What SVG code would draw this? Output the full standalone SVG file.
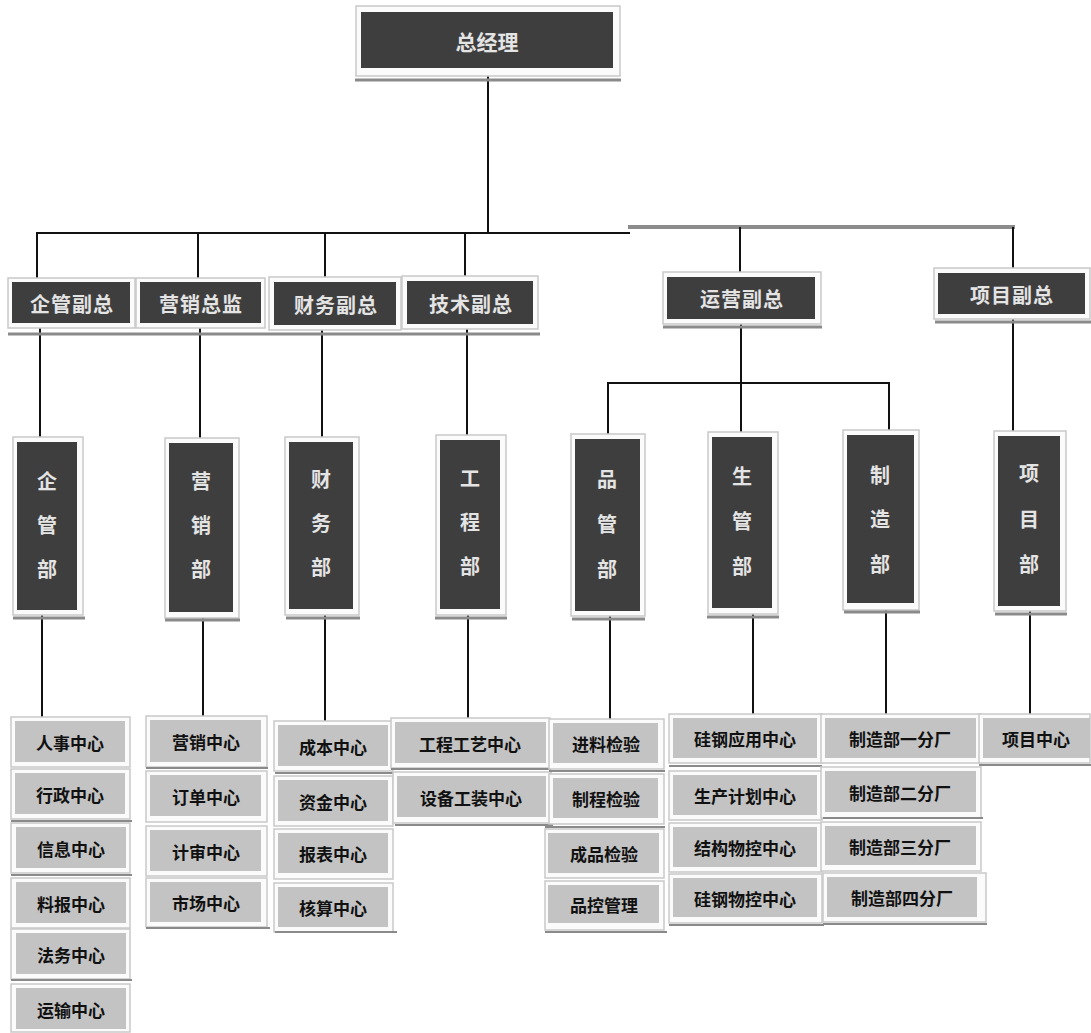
<svg xmlns="http://www.w3.org/2000/svg" width="1091" height="1033" viewBox="0 0 1091 1033">
<style>
.frame{fill:#fbfbfb;stroke:#c9c9c9;stroke-width:1.5}
.dark{fill:#3e3e3e}
.light{fill:#c3c3c3}
.sh{stroke:#8a8a8a;stroke-width:3}
.ln{stroke:#111;stroke-width:2;fill:none}
.wt{fill:#e4e4e4;font-family:"Noto Sans CJK SC","Noto Sans",sans-serif;font-weight:bold;text-anchor:middle;dominant-baseline:central}
.t1{font-size:21px}
.t2{font-size:20px;letter-spacing:1px}
.t3{font-size:20px}
.bt{fill:#111;font-family:"Noto Sans CJK SC","Noto Sans",sans-serif;font-weight:bold;font-size:17px;text-anchor:middle;dominant-baseline:central}
</style>
<rect width="1091" height="1033" fill="#ffffff"/>

<g id="connectors">
  <line class="ln" x1="488" y1="76" x2="488" y2="233"/>
  <line class="ln" x1="36" y1="233" x2="630" y2="233"/>
  <line x1="628" y1="227" x2="1015" y2="227" stroke="#8c8c8c" stroke-width="4"/>
  <line class="ln" x1="37" y1="233" x2="37" y2="282"/>
  <line class="ln" x1="198" y1="233" x2="198" y2="282"/>
  <line class="ln" x1="325" y1="233" x2="325" y2="282"/>
  <line class="ln" x1="465" y1="233" x2="465" y2="281"/>
  <line class="ln" x1="740" y1="227" x2="740" y2="277"/>
  <line class="ln" x1="1013" y1="227" x2="1013" y2="273"/>

  <line class="ln" x1="40" y1="327" x2="40" y2="442"/>
  <line class="ln" x1="200" y1="327" x2="200" y2="443"/>
  <line class="ln" x1="322" y1="329" x2="322" y2="442"/>
  <line class="ln" x1="467" y1="328" x2="467" y2="440"/>
  <line class="ln" x1="741" y1="323" x2="741" y2="437"/>
  <line class="ln" x1="607" y1="383" x2="890" y2="383"/>
  <line class="ln" x1="608" y1="382" x2="608" y2="439"/>
  <line class="ln" x1="889" y1="382" x2="889" y2="435"/>
  <line class="ln" x1="1013" y1="318" x2="1013" y2="436"/>

  <line class="ln" x1="42" y1="614" x2="42" y2="721"/>
  <line class="ln" x1="203" y1="616" x2="203" y2="720"/>
  <line class="ln" x1="325" y1="613" x2="325" y2="725"/>
  <line class="ln" x1="468" y1="613" x2="468" y2="722"/>
  <line class="ln" x1="610" y1="615" x2="610" y2="723"/>
  <line class="ln" x1="753" y1="612" x2="753" y2="718"/>
  <line class="ln" x1="886" y1="609" x2="886" y2="718"/>
  <line class="ln" x1="1030" y1="611" x2="1030" y2="718"/>
</g>

<g id="n-gm">
  <rect class="frame" x="356" y="6" width="264" height="70"/>
  <rect class="dark" x="361" y="12" width="252" height="56"/>
  <line class="sh" x1="355" y1="80" x2="621" y2="80"/>
  <text class="wt t1" x="487" y="41">总经理</text>
</g>

<g id="n-vp-qg">
  <rect class="frame" x="8" y="278" width="127" height="50"/>
  <rect class="dark" x="12" y="282" width="118" height="41"/>
  <text class="wt t2" x="72" y="303">企管副总</text>
</g>
<g id="n-vp-yx">
  <rect class="frame" x="136" y="278" width="129" height="50"/>
  <rect class="dark" x="140" y="282" width="121" height="41"/>
  <text class="wt t2" x="201" y="303">营销总监</text>
</g>
<g id="n-vp-cw">
  <rect class="frame" x="269" y="277" width="132" height="53"/>
  <rect class="dark" x="274" y="282" width="122" height="43"/>
  <text class="wt t2" x="336" y="304">财务副总</text>
</g>
<g id="n-vp-js">
  <rect class="frame" x="402" y="276" width="136" height="53"/>
  <rect class="dark" x="407" y="281" width="126" height="43"/>
  <text class="wt t2" x="471" y="303">技术副总</text>
</g>
<line class="sh" x1="8" y1="334" x2="540" y2="334"/>
<g id="n-vp-yy">
  <rect class="frame" x="663" y="272" width="158" height="52"/>
  <rect class="dark" x="667" y="277" width="148" height="42"/>
  <line class="sh" x1="663" y1="327" x2="822" y2="327"/>
  <text class="wt t2" x="742" y="298">运营副总</text>
</g>
<g id="n-vp-xm">
  <rect class="frame" x="934" y="268" width="156" height="51"/>
  <rect class="dark" x="938" y="273" width="147" height="41"/>
  <line class="sh" x1="935" y1="322" x2="1091" y2="322"/>
  <text class="wt t2" x="1012" y="294">项目副总</text>
</g>

<g id="d-qg">
  <rect class="frame" x="13" y="437" width="70" height="178"/>
  <rect class="dark" x="17" y="442" width="60" height="168"/>
  <line class="sh" x1="13" y1="618" x2="85" y2="618"/>
  <text class="wt t3" x="47" y="480">企</text><text class="wt t3" x="47" y="524">管</text><text class="wt t3" x="47" y="568">部</text>
</g>
<g id="d-yx">
  <rect class="frame" x="165" y="438" width="74" height="180"/>
  <rect class="dark" x="169" y="443" width="64" height="169"/>
  <line class="sh" x1="165" y1="620" x2="240" y2="620"/>
  <text class="wt t3" x="201" y="480">营</text><text class="wt t3" x="201" y="524">销</text><text class="wt t3" x="201" y="568">部</text>
</g>
<g id="d-cw">
  <rect class="frame" x="285" y="437" width="74" height="178"/>
  <rect class="dark" x="289" y="442" width="64" height="167"/>
  <line class="sh" x1="286" y1="618" x2="360" y2="618"/>
  <text class="wt t3" x="321" y="478">财</text><text class="wt t3" x="321" y="522">务</text><text class="wt t3" x="321" y="566">部</text>
</g>
<g id="d-gc">
  <rect class="frame" x="436" y="435" width="70" height="180"/>
  <rect class="dark" x="440" y="440" width="60" height="169"/>
  <line class="sh" x1="435" y1="618" x2="507" y2="618"/>
  <text class="wt t3" x="470" y="477">工</text><text class="wt t3" x="470" y="521">程</text><text class="wt t3" x="470" y="565">部</text>
</g>
<g id="d-pg">
  <rect class="frame" x="571" y="434" width="74" height="182"/>
  <rect class="dark" x="575" y="439" width="65" height="172"/>
  <line class="sh" x1="572" y1="619" x2="645" y2="619"/>
  <text class="wt t3" x="607" y="478">品</text><text class="wt t3" x="607" y="523">管</text><text class="wt t3" x="607" y="568">部</text>
</g>
<g id="d-sg">
  <rect class="frame" x="708" y="432" width="70" height="182"/>
  <rect class="dark" x="712" y="437" width="60" height="171"/>
  <line class="sh" x1="707" y1="617" x2="779" y2="617"/>
  <text class="wt t3" x="742" y="475">生</text><text class="wt t3" x="742" y="520">管</text><text class="wt t3" x="742" y="565">部</text>
</g>
<g id="d-zz">
  <rect class="frame" x="843" y="430" width="76" height="180"/>
  <rect class="dark" x="847" y="435" width="67" height="168"/>
  <line class="sh" x1="844" y1="612" x2="920" y2="612"/>
  <text class="wt t3" x="880" y="474">制</text><text class="wt t3" x="880" y="518">造</text><text class="wt t3" x="880" y="563">部</text>
</g>
<g id="d-xm">
  <rect class="frame" x="994" y="431" width="72" height="180"/>
  <rect class="dark" x="998" y="436" width="62" height="170"/>
  <line class="sh" x1="995" y1="614" x2="1067" y2="614"/>
  <text class="wt t3" x="1029" y="472">项</text><text class="wt t3" x="1029" y="518">目</text><text class="wt t3" x="1029" y="563">部</text>
</g>

<!-- column 1 -->
<g id="c1-1"><rect class="frame" x="11" y="717" width="119" height="50"/><rect class="light" x="15" y="721" width="110" height="41"/><text class="bt" x="70" y="742">人事中心</text></g>
<g id="c1-2"><rect class="frame" x="11" y="769" width="119" height="50"/><rect class="light" x="15" y="773" width="110" height="41"/><text class="bt" x="70" y="794">行政中心</text></g>
<g id="c1-3"><rect class="frame" x="11" y="823" width="119" height="50"/><rect class="light" x="16" y="827" width="110" height="41"/><text class="bt" x="71" y="848">信息中心</text></g>
<g id="c1-4"><rect class="frame" x="11" y="878" width="119" height="50"/><rect class="light" x="16" y="882" width="110" height="41"/><text class="bt" x="71" y="903">料报中心</text></g>
<g id="c1-5"><rect class="frame" x="11" y="929" width="119" height="50"/><rect class="light" x="16" y="933" width="110" height="41"/><text class="bt" x="71" y="954">法务中心</text></g>
<g id="c1-6"><rect class="frame" x="11" y="984" width="119" height="48"/><rect class="light" x="16" y="988" width="110" height="41"/><text class="bt" x="71" y="1009">运输中心</text></g>
<line x1="11" y1="821" x2="132" y2="821" stroke="#8a8a8a" stroke-width="2"/>
<line x1="11" y1="875" x2="132" y2="875" stroke="#8a8a8a" stroke-width="2"/>
<line x1="11" y1="980" x2="132" y2="980" stroke="#8a8a8a" stroke-width="2"/>

<!-- column 2 -->
<g id="c2-1"><rect class="frame" x="146" y="716" width="121" height="51"/><rect class="light" x="150" y="720" width="111" height="42"/><text class="bt" x="206" y="741">营销中心</text></g>
<g id="c2-2"><rect class="frame" x="146" y="771" width="121" height="51"/><rect class="light" x="150" y="775" width="111" height="41"/><text class="bt" x="206" y="796">订单中心</text></g>
<g id="c2-3"><rect class="frame" x="146" y="826" width="121" height="50"/><rect class="light" x="150" y="830" width="111" height="41"/><text class="bt" x="206" y="851">计审中心</text></g>
<g id="c2-4"><rect class="frame" x="146" y="878" width="121" height="49"/><rect class="light" x="150" y="882" width="111" height="40"/><text class="bt" x="206" y="902">市场中心</text></g>
<line x1="146" y1="768" x2="268" y2="768" stroke="#8a8a8a" stroke-width="2"/>
<line x1="146" y1="928" x2="270" y2="928" stroke="#8a8a8a" stroke-width="2"/>

<!-- column 3 -->
<g id="c3-1"><rect class="frame" x="274" y="721" width="119" height="50"/><rect class="light" x="278" y="725" width="110" height="41"/><text class="bt" x="333" y="746">成本中心</text></g>
<g id="c3-2"><rect class="frame" x="274" y="776" width="119" height="50"/><rect class="light" x="278" y="780" width="110" height="41"/><text class="bt" x="333" y="801">资金中心</text></g>
<g id="c3-3"><rect class="frame" x="274" y="829" width="119" height="50"/><rect class="light" x="278" y="833" width="110" height="40"/><text class="bt" x="333" y="853">报表中心</text></g>
<g id="c3-4"><rect class="frame" x="274" y="883" width="119" height="49"/><rect class="light" x="278" y="887" width="110" height="40"/><text class="bt" x="333" y="907">核算中心</text></g>
<line x1="275" y1="773" x2="395" y2="773" stroke="#8a8a8a" stroke-width="2"/>
<line x1="275" y1="932" x2="397" y2="932" stroke="#8a8a8a" stroke-width="2"/>

<!-- column 4 -->
<g id="c4-1"><rect class="frame" x="391" y="718" width="159" height="50"/><rect class="light" x="395" y="722" width="151" height="41"/><text class="bt" x="470" y="743">工程工艺中心</text></g>
<g id="c4-2"><rect class="frame" x="393" y="772" width="158" height="51"/><rect class="light" x="397" y="776" width="149" height="41"/><text class="bt" x="471" y="797">设备工装中心</text></g>
<line x1="391" y1="769" x2="551" y2="769" stroke="#8a8a8a" stroke-width="2"/>
<line x1="395" y1="825" x2="553" y2="825" stroke="#8a8a8a" stroke-width="2"/>

<!-- column 5 -->
<g id="c5-1"><rect class="frame" x="549" y="719" width="115" height="50"/><rect class="light" x="553" y="723" width="105" height="40"/><text class="bt" x="606" y="743">进料检验</text></g>
<g id="c5-2"><rect class="frame" x="549" y="774" width="115" height="50"/><rect class="light" x="553" y="778" width="105" height="40"/><text class="bt" x="606" y="798">制程检验</text></g>
<g id="c5-3"><rect class="frame" x="545" y="829" width="119" height="49"/><rect class="light" x="548" y="833" width="111" height="40"/><text class="bt" x="604" y="853">成品检验</text></g>
<g id="c5-4"><rect class="frame" x="545" y="881" width="119" height="49"/><rect class="light" x="548" y="885" width="111" height="38"/><text class="bt" x="604" y="904">品控管理</text></g>
<line x1="549" y1="771" x2="665" y2="771" stroke="#8a8a8a" stroke-width="2"/>
<line x1="545" y1="827" x2="665" y2="827" stroke="#8a8a8a" stroke-width="2"/>
<line x1="545" y1="932" x2="667" y2="932" stroke="#8a8a8a" stroke-width="2"/>

<!-- column 6 -->
<g id="c6-1"><rect class="frame" x="669" y="714" width="153" height="49"/><rect class="light" x="673" y="718" width="144" height="40"/><text class="bt" x="745" y="738">硅钢应用中心</text></g>
<g id="c6-2"><rect class="frame" x="669" y="771" width="153" height="49"/><rect class="light" x="673" y="775" width="144" height="40"/><text class="bt" x="745" y="795">生产计划中心</text></g>
<g id="c6-3"><rect class="frame" x="669" y="823" width="153" height="49"/><rect class="light" x="673" y="827" width="144" height="40"/><text class="bt" x="745" y="847">结构物控中心</text></g>
<g id="c6-4"><rect class="frame" x="669" y="874" width="153" height="49"/><rect class="light" x="673" y="878" width="144" height="39"/><text class="bt" x="745" y="898">硅钢物控中心</text></g>
<line x1="669" y1="766" x2="822" y2="766" stroke="#8a8a8a" stroke-width="2"/>
<line x1="669" y1="925" x2="824" y2="925" stroke="#8a8a8a" stroke-width="2"/>

<!-- column 7 -->
<g id="c7-1"><rect class="frame" x="821" y="714" width="160" height="49"/><rect class="light" x="825" y="718" width="151" height="40"/><text class="bt" x="900" y="738">制造部一分厂</text></g>
<g id="c7-2"><rect class="frame" x="821" y="767" width="160" height="51"/><rect class="light" x="825" y="771" width="151" height="41"/><text class="bt" x="900" y="792">制造部二分厂</text></g>
<g id="c7-3"><rect class="frame" x="821" y="822" width="160" height="49"/><rect class="light" x="825" y="826" width="151" height="39"/><text class="bt" x="900" y="846">制造部三分厂</text></g>
<g id="c7-4"><rect class="frame" x="823" y="873" width="163" height="49"/><rect class="light" x="827" y="877" width="150" height="40"/><text class="bt" x="902" y="897">制造部四分厂</text></g>
<line x1="823" y1="818" x2="983" y2="818" stroke="#8a8a8a" stroke-width="2"/>
<line x1="823" y1="924" x2="987" y2="924" stroke="#8a8a8a" stroke-width="2"/>

<!-- column 8 -->
<g id="c8-1"><rect class="frame" x="979" y="714" width="111" height="49"/><rect class="light" x="983" y="718" width="107" height="40"/><text class="bt" x="1036" y="738">项目中心</text></g>
<line x1="979" y1="765" x2="1091" y2="765" stroke="#8a8a8a" stroke-width="2"/>
</svg>
